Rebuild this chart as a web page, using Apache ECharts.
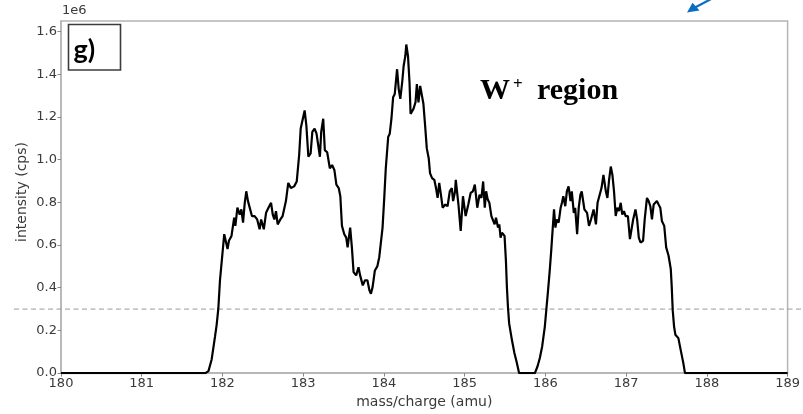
<!DOCTYPE html>
<html>
<head>
<meta charset="utf-8">
<script src="https://cdn.jsdelivr.net/npm/echarts@6/dist/echarts.min.js"></script>
<style>html,body{margin:0;padding:0;background:#fff}#c{width:803px;height:414px}</style>
</head>
<body>
<div id="c"></div>
<script>
// mass/charge (amu)
const mass = [
180.000,181.789,181.826,181.866,181.908,181.928,181.949,181.969,181.982,181.998,
182.022,182.038,182.063,182.080,182.112,182.145,182.160,182.185,182.214,182.234,
182.255,182.276,182.295,182.316,182.337,182.365,182.398,182.430,182.460,182.479,
182.512,182.540,182.570,182.602,182.623,182.643,182.663,182.684,182.717,182.745,
182.766,182.786,182.815,182.847,182.888,182.920,182.950,182.969,182.990,183.018,
183.039,183.064,183.092,183.113,183.141,183.165,183.183,183.207,183.223,183.248,
183.268,183.297,183.330,183.358,183.386,183.411,183.440,183.460,183.480,183.509,
183.533,183.550,183.582,183.603,183.624,183.656,183.685,183.705,183.738,183.766,
183.795,183.820,183.839,183.860,183.888,183.918,183.942,183.962,183.983,184.004,
184.023,184.053,184.072,184.093,184.114,184.134,184.163,184.183,184.203,184.228,
184.244,184.265,184.277,184.298,184.317,184.330,184.350,184.366,184.391,184.408,
184.428,184.449,184.473,184.489,184.510,184.531,184.555,184.571,184.596,184.624,
184.645,184.665,184.685,184.706,184.727,184.759,184.788,184.816,184.841,184.857,
184.881,184.890,184.923,184.951,184.979,185.012,185.045,185.074,185.102,185.126,
185.156,185.184,185.208,185.229,185.249,185.266,185.286,185.306,185.331,185.347,
185.371,185.388,185.413,185.429,185.445,185.462,185.494,185.511,185.523,185.536,
185.551,185.585,185.616,185.646,185.674,185.870,185.903,185.931,185.960,185.993,
186.013,186.033,186.054,186.075,186.094,186.107,186.124,186.140,186.164,186.189,
186.205,186.222,186.246,186.266,186.287,186.311,186.327,186.352,186.369,186.393,
186.413,186.434,186.450,186.474,186.483,186.516,186.540,186.565,186.597,186.626,
186.646,186.667,186.695,186.719,186.749,186.768,186.789,186.810,186.830,186.850,
186.871,186.891,186.912,186.933,186.952,186.973,186.994,187.022,187.047,187.063,
187.087,187.116,187.136,187.157,187.178,187.210,187.230,187.258,187.279,187.300,
187.320,187.341,187.361,187.381,187.402,187.423,187.443,187.472,187.496,187.525,
187.553,187.565,187.577,187.594,187.610,187.647,187.675,187.708,187.729,189.000
];
// intensity (cps), in units of 1e6
const intensity = [
0,0,0.009,0.064,0.172,0.226,0.303,0.434,0.487,0.496,
0.651,0.659,0.581,0.620,0.643,0.728,0.690,0.775,0.743,0.767,
0.705,0.798,0.852,0.806,0.798,0.736,0.736,0.720,0.674,0.720,
0.674,0.751,0.775,0.798,0.743,0.720,0.759,0.697,0.720,0.736,
0.743,0.806,0.891,0.867,0.875,0.898,1.022,1.146,1.154,1.231,
1.161,1.014,1.030,1.130,1.146,1.122,1.115,1.014,1.130,1.192,
1.045,1.035,0.960,0.975,0.952,0.883,0.867,0.829,0.690,0.651,
0.635,0.589,0.682,0.589,0.473,0.458,0.496,0.458,0.411,0.435,
0.435,0.388,0.372,0.404,0.481,0.500,0.543,0.551,0.682,0.821,
0.960,1.107,1.122,1.192,1.293,1.308,1.424,1.331,1.285,1.370,
1.439,1.486,1.540,1.486,1.362,1.215,1.207,1.238,1.269,1.354,
1.269,1.346,1.346,1.262,1.161,1.053,1.006,0.937,0.914,0.906,
0.867,0.821,0.891,0.836,0.775,0.790,0.782,0.852,0.867,0.806,
0.852,0.906,0.790,0.666,0.829,0.736,0.790,0.844,0.852,0.883,
0.775,0.836,0.821,0.898,0.775,0.852,0.813,0.798,0.736,0.743,
0.697,0.728,0.682,0.697,0.635,0.658,0.643,0.527,0.404,0.311,
0.233,0.156,0.094,0.048,0,0,0.032,0.071,0.125,0.218,
0.303,0.388,0.481,0.589,0.697,0.767,0.682,0.720,0.705,0.775,
0.798,0.829,0.782,0.852,0.875,0.806,0.852,0.751,0.775,0.651,
0.775,0.836,0.852,0.790,0.767,0.751,0.690,0.720,0.767,0.697,
0.798,0.806,0.867,0.929,0.852,0.821,0.906,0.968,0.929,0.852,
0.736,0.775,0.759,0.798,0.743,0.759,0.736,0.736,0.628,0.620,
0.720,0.767,0.720,0.635,0.612,0.620,0.720,0.821,0.806,0.782,
0.720,0.790,0.798,0.806,0.790,0.775,0.713,0.690,0.589,0.551,
0.488,0.404,0.295,0.218,0.180,0.164,0.110,0.048,0,0
];
const threshold = 0.3;
const xTicks = [180,181,182,183,184,185,186,187,188,189];
const yTicks = [0,0.2,0.4,0.6,0.8,1.0,1.2,1.4,1.6];

const chart = echarts.init(document.getElementById('c'), null, {renderer:'canvas'});
const labelColor = '#3a3a3a';
const frameColor = '#b4b4b4';
const font = 'DejaVu Sans';

chart.setOption({
  animation: false,
  grid: {left:61, right:8, top:21, bottom:37, show:true, borderColor:frameColor, borderWidth:1.5, backgroundColor:'transparent'},
  xAxis: {
    type:'value', min:180, max:189, interval:1,
    axisLine:{show:true, onZero:false, lineStyle:{color:frameColor, width:1.5}},
    axisTick:{show:true, length:3.5, lineStyle:{color:'#888'}, customValues:xTicks},
    axisLabel:{color:labelColor, fontSize:13, fontFamily:font, margin:4, customValues:xTicks},
    splitLine:{show:false},
    name:'mass/charge (amu)', nameLocation:'middle', nameGap:19,
    nameTextStyle:{color:labelColor, fontSize:14, fontFamily:font}
  },
  yAxis: {
    type:'value', min:0, max:1.65,
    axisLine:{show:true, lineStyle:{color:frameColor, width:1.5}},
    axisTick:{show:true, length:3.5, lineStyle:{color:'#888'}, customValues:yTicks},
    axisLabel:{color:labelColor, fontSize:13, fontFamily:font, margin:4, customValues:yTicks,
      formatter:v=>v.toFixed(1)},
    splitLine:{show:false}
  },
  series: [{
    type:'line', data: mass.map((m,i)=>[m,intensity[i]]),
    showSymbol:false, symbol:'none',
    lineStyle:{color:'#000', width:2.2}, clip:true
  }]
});

const yT = chart.convertToPixel({gridIndex:0}, [180, threshold])[1];
chart.setOption({
  graphic: [
    {type:'line', shape:{x1:14, y1:yT, x2:803, y2:yT}, style:{stroke:'#9a9a9a', lineWidth:1, lineDash:[5,3.5]}, z:1},
    {type:'text', left:62, top:4, style:{text:'1e6', fill:labelColor, font:'13px "DejaVu Sans"'}},
    {type:'text', x:22, y:192, rotation:Math.PI/2, style:{text:'intensity (cps)', fill:labelColor, font:'14px "DejaVu Sans"', align:'center', verticalAlign:'middle'}},
    {type:'rect', shape:{x:68.5, y:24.5, width:52, height:45.5}, style:{fill:'#fff', stroke:'#3c3c3c', lineWidth:1.6}, z:10},
    {type:'text', x:73.5, y:50, style:{text:'g)', fill:'#000', font:'bold 27px Lato', verticalAlign:'middle'}, z:11},
    {type:'text', x:480, y:91, style:{text:'W', fill:'#000', font:'bold 30px "Liberation Serif"', verticalAlign:'middle'}, z:11},
    {type:'text', x:513, y:85, style:{text:'+', fill:'#000', font:'bold 17px "Liberation Serif"', verticalAlign:'middle'}, z:11},
    {type:'text', x:537, y:91, style:{text:'region', fill:'#000', font:'bold 30px "Liberation Serif"', verticalAlign:'middle'}, z:11},
    {type:'line', shape:{x1:713, y1:-2, x2:695, y2:7.5}, style:{stroke:'#0a6fc2', lineWidth:2.2}, z:12},
    {type:'polygon', shape:{points:[[687,12.5],[692.5,2.8],[699.5,10.5]]}, style:{fill:'#0a6fc2'}, z:12}
  ]
});
</script>
</body>
</html>
